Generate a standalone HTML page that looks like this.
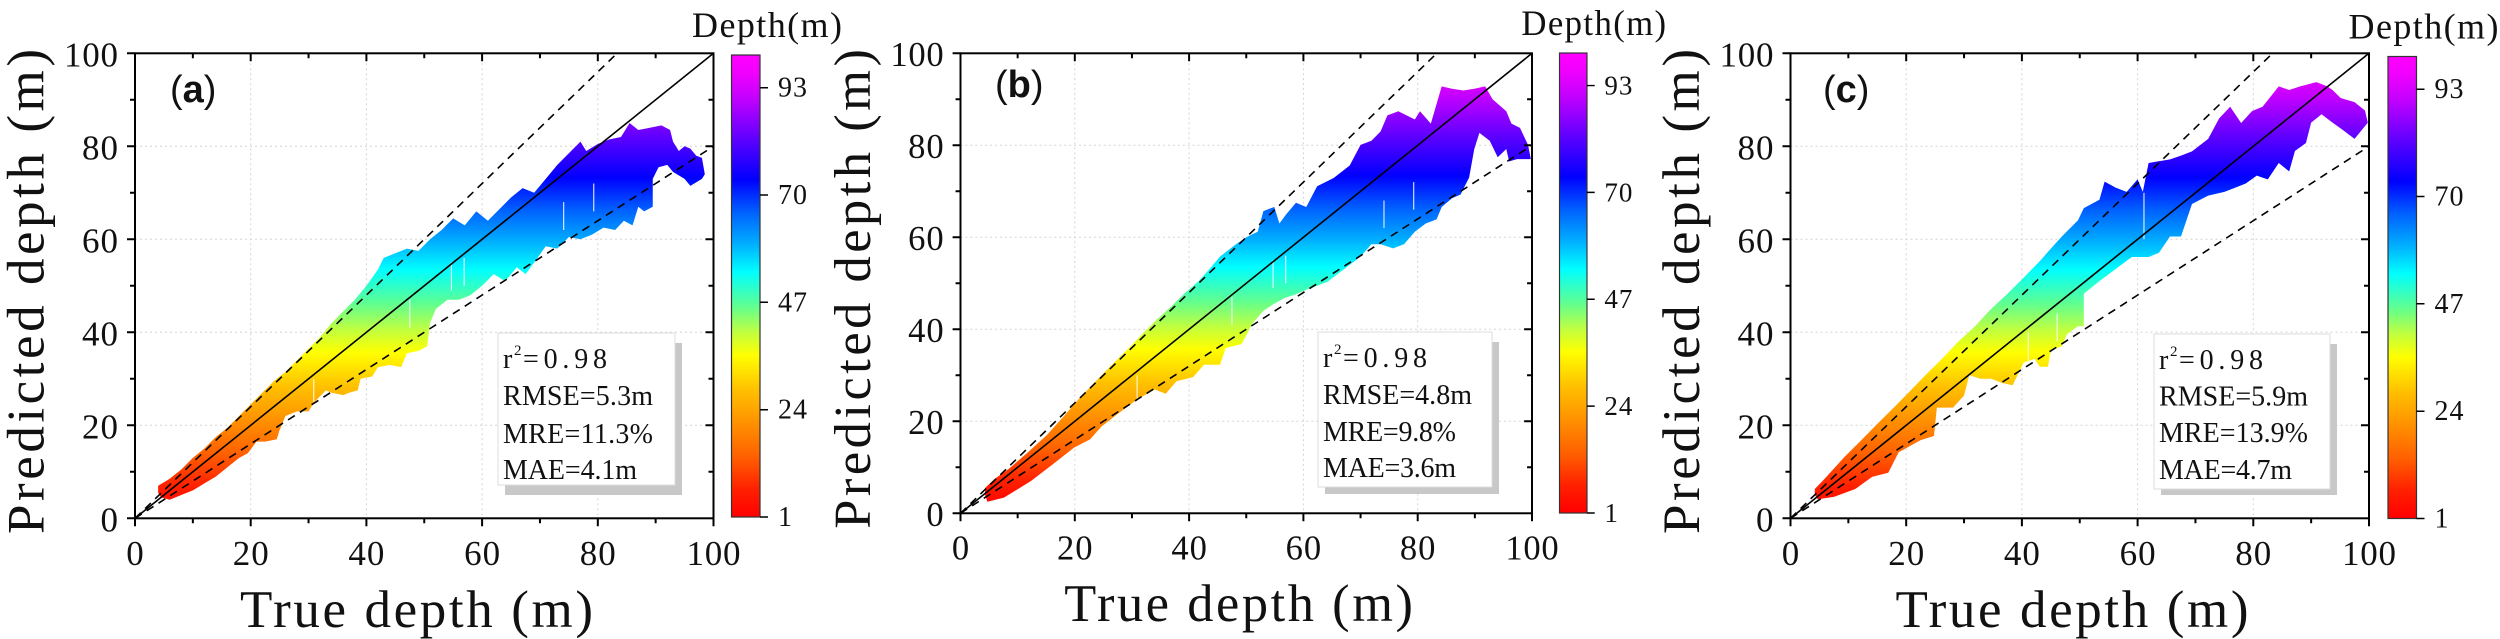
<!DOCTYPE html>
<html><head><meta charset="utf-8"><style>html,body{margin:0;padding:0;background:#fff}svg{display:block}</style></head>
<body>
<svg xmlns="http://www.w3.org/2000/svg" width="2500" height="639" viewBox="0 0 2500 639" font-family="'Liberation Serif', serif">
<defs>
<linearGradient id="sg" gradientUnits="userSpaceOnUse" x1="0" y1="1" x2="0" y2="100">
<stop offset="0" stop-color="#ff0000"/><stop offset=".06" stop-color="#ff2000"/><stop offset=".13" stop-color="#ff6000"/><stop offset=".225" stop-color="#ffa000"/><stop offset=".275" stop-color="#ffc000"/><stop offset=".35" stop-color="#ffff00"/><stop offset=".40" stop-color="#c0ff40"/><stop offset=".456" stop-color="#60ff90"/><stop offset=".53" stop-color="#00ffff"/><stop offset=".59" stop-color="#00b0ff"/><stop offset=".66" stop-color="#0060ff"/><stop offset=".73" stop-color="#0000ff"/><stop offset=".82" stop-color="#6000ff"/><stop offset=".903" stop-color="#c000ff"/><stop offset=".96" stop-color="#f000ff"/><stop offset="1" stop-color="#ff00ff"/>
</linearGradient>
<linearGradient id="cg" x1="0" y1="1" x2="0" y2="0">
<stop offset="0" stop-color="#ff0000"/><stop offset=".06" stop-color="#ff2000"/><stop offset=".13" stop-color="#ff6000"/><stop offset=".225" stop-color="#ffa000"/><stop offset=".275" stop-color="#ffc000"/><stop offset=".35" stop-color="#ffff00"/><stop offset=".40" stop-color="#c0ff40"/><stop offset=".456" stop-color="#60ff90"/><stop offset=".53" stop-color="#00ffff"/><stop offset=".59" stop-color="#00b0ff"/><stop offset=".66" stop-color="#0060ff"/><stop offset=".73" stop-color="#0000ff"/><stop offset=".82" stop-color="#6000ff"/><stop offset=".903" stop-color="#c000ff"/><stop offset=".96" stop-color="#f000ff"/><stop offset="1" stop-color="#ff00ff"/>
</linearGradient>

<g id="grid">
<path d="M115.7 0V465M231.4 0V465M347.1 0V465M462.8 0V465M0 93H578.5M0 186H578.5M0 279H578.5M0 372H578.5" stroke="#d4d4d4" stroke-width="1" stroke-dasharray="2 3" fill="none"/>
</g>

<g id="streaks" fill="#fff" fill-opacity="0.85">
<rect x="30.8" y="25" width="0.2" height="5"/>
<rect x="47.4" y="41" width="0.2" height="6"/>
<rect x="54.6" y="49" width="0.2" height="6"/>
<rect x="56.8" y="50" width="0.2" height="6"/>
<rect x="74" y="62" width="0.2" height="6"/>
<rect x="79.2" y="66" width="0.2" height="6"/>
</g>

<g id="front">
<path d="M0 465L578.5 0" stroke="#000" stroke-width="1.6" fill="none"/>
<path d="M0 465L482.1 0M0 465L578.5 93" stroke="#000" stroke-width="1.6" stroke-dasharray="8 6" fill="none"/>
<rect x="0" y="0" width="578.5" height="465" fill="none" stroke="#000" stroke-width="2"/>
<path d="M-8 465H0M-5 418.5H0M-8 372H0M-5 325.5H0M-8 279H0M-5 232.5H0M-8 186H0M-5 139.5H0M-8 93H0M-5 46.5H0M-8 0H0
M0 465V473M57.85 465V470M115.7 465V473M173.55 465V470M231.4 465V473M289.25 465V470M347.1 465V473M404.95 465V470M462.8 465V473M520.65 465V470M578.5 465V473
M57.85 0V5M115.7 0V8M173.55 0V5M231.4 0V8M289.25 0V5M347.1 0V8M404.95 0V5M462.8 0V8M520.65 0V5
M573.5 418.5H578.5M570.5 372H578.5M573.5 325.5H578.5M570.5 279H578.5M573.5 232.5H578.5M570.5 186H578.5M573.5 139.5H578.5M570.5 93H578.5M573.5 46.5H578.5" stroke="#000" stroke-width="2" fill="none"/>
<g font-size="35" fill="#111" text-anchor="end">
<text x="-17" y="13" textLength="54" lengthAdjust="spacing">100</text>
<text x="-17" y="106" textLength="36" lengthAdjust="spacing">80</text>
<text x="-17" y="199" textLength="36" lengthAdjust="spacing">60</text>
<text x="-17" y="292" textLength="36" lengthAdjust="spacing">40</text>
<text x="-17" y="385" textLength="36" lengthAdjust="spacing">20</text>
<text x="-17" y="478">0</text>
</g>
<g font-size="35" fill="#111" text-anchor="middle">
<text x="0" y="511.7">0</text>
<text x="115.7" y="511.7" textLength="36" lengthAdjust="spacing">20</text>
<text x="231.4" y="511.7" textLength="36" lengthAdjust="spacing">40</text>
<text x="347.1" y="511.7" textLength="36" lengthAdjust="spacing">60</text>
<text x="462.8" y="511.7" textLength="36" lengthAdjust="spacing">80</text>
<text x="578.5" y="511.7" textLength="54" lengthAdjust="spacing">100</text>
</g>
<text x="281.5" y="573.7" font-size="53" fill="#111" text-anchor="middle" textLength="353" lengthAdjust="spacing">True depth (m)</text>
<text transform="translate(-91.5,238.2) rotate(-90)" x="0" y="0" font-size="53" fill="#111" text-anchor="middle" textLength="485" lengthAdjust="spacing">Predicted depth (m)</text>
</g>

<g id="cbar">
<rect x="0" y="0" width="28.5" height="462" fill="url(#cg)" stroke="#333" stroke-width="1.2"/>
<path d="M28.5 462H36.5M28.5 354.7H36.5M28.5 247.3H36.5M28.5 140H36.5M28.5 32.7H36.5" stroke="#000" stroke-width="1.5"/>
<g font-size="28" fill="#111">
<text x="46.5" y="471">1</text>
<text x="46.5" y="363.7" textLength="29" lengthAdjust="spacing">24</text>
<text x="46.5" y="256.3" textLength="29" lengthAdjust="spacing">47</text>
<text x="46.5" y="149" textLength="29" lengthAdjust="spacing">70</text>
<text x="46.5" y="41.7" textLength="29" lengthAdjust="spacing">93</text>
</g>
<text x="-39.5" y="-18" font-size="36" fill="#111" textLength="150" lengthAdjust="spacing">Depth(m)</text>
</g>
</defs>

<rect x="0" y="0" width="2500" height="639" fill="#fff"/>

<!-- Panel A -->
<use href="#grid" transform="translate(135,53.3)"/>
<g transform="translate(135,518.3) scale(5.785,-4.65)">
<polygon fill="url(#sg)" points="4,5.5 4,7 6,8.5 8,10.5 10,13 12,15 14,17.5 16,19.5 18,22 20,24.5 22,27 24,29.5 26,31.5 28,34 30,36.5 32,39 34,42 36,44.5 38,47 40,50 42,53.5 43,56 45,57 47,58 49,57.5 51,60 53,62 55,64.5 57,63 59,66 61,64 63,66.5 65,69 67,71 69,70 71,73 73,76 75,78.5 77,81 78,79 80,80.5 82,81.5 84,82 85.5,85 87,83.5 89,84 91,84.5 92.5,83.5 93,81 94,79 95,80 96,79.5 97,78 98,77.5 98.5,74 98,73 96,71.5 95,73 93,74.5 92,76 90.5,75.5 89.5,73 89.5,67 88,66 87,67 86,63 84.5,64 83,62 81,62.5 79,61 77,60 75,60.5 73,58 71,58.5 69,55 67.5,52.5 66,54 64,51 62,52.5 60,50 58,48 56,47 54,47 52,45 51,42 50.5,37 49,36 47,35.5 46,32.5 44,33 42,32.5 41,30.5 39,30 38.5,27.5 37,27 36,26.5 34,27 33,27.5 31,25 30,23 28,23 26,22 25,19 24.5,17 22.5,16.5 21,16.5 19.5,14 18,13 16,11 14,9 12,7.5 10,6 8,5 6,4 4.5,4.5"/>
<use href="#streaks"/>
</g>
<use href="#front" transform="translate(135,53.3)"/>
<use href="#cbar" transform="translate(731.5,55)"/>
<text x="170" y="102" font-family="'Liberation Sans', sans-serif" font-size="38" fill="#111">(<tspan font-weight="bold">a</tspan>)</text>
<rect x="505" y="343" width="177" height="152" fill="#c8c8c8"/>
<rect x="498" y="333" width="177" height="152" fill="#fff" stroke="#dcdcdc" stroke-width="1"/>
<g font-size="28" fill="#111">
<text x="503" y="368">r</text><text x="514" y="355" font-size="15">2</text><text x="523" y="368" textLength="84" lengthAdjust="spacing">=0.98</text>
<text x="503" y="405" textLength="150" lengthAdjust="spacing">RMSE=5.3m</text>
<text x="503" y="443" textLength="150" lengthAdjust="spacing">MRE=11.3%</text>
<text x="503" y="479" textLength="134" lengthAdjust="spacing">MAE=4.1m</text>
</g>

<!-- Panel B -->
<use href="#grid" transform="translate(960.5,53.3) scale(0.9879,0.9892)"/>
<g transform="translate(960.5,513.3) scale(5.715,-4.6)">
<polygon fill="url(#sg)" points="4.3,4 4.3,5.5 6,7.5 8.5,9.7 12,13.5 15.1,17 18,21 20.8,25 23.5,28.5 26.5,32.3 29.5,36 32.2,39.5 34.5,42.3 36.9,45 39.2,47.8 41.6,50.4 43.5,53 45.4,55.8 48.2,58.5 50,60 52,61.2 53,65.7 54.9,66.6 55.8,63 57,65 58.7,67.5 60.5,66.6 62.4,71.1 65.3,72.9 68.1,75.6 70,80.1 71.9,81 73.5,83 74.7,86.5 76.6,87.4 79.5,85.6 80.4,87.4 82.3,84.7 84.2,92.8 86,92.3 88,91.9 89.9,92.3 91.8,92.8 93.1,90 95.5,87.4 96.4,84.7 97.9,83.8 99.3,80.1 99.8,77 97.4,77 96,76.5 95.5,79.2 94,77.4 92.6,81 90.8,82.7 89.9,79.2 89,73 87.5,69.3 86,68.5 84.2,66.6 83.3,63.9 81.4,63 79.5,61.2 77.6,58.5 75.7,57.6 73.5,58.5 71.9,58.5 70,55.8 68.1,54 66.2,52.2 64.3,50.4 62.5,49.5 60.5,48.6 58.5,47.5 56.7,46.8 54.8,45.5 53,44 51.1,41.3 49.2,36.8 46.4,35.9 45.4,32.3 42.6,32.3 40.7,29.6 37.8,28.7 35.9,26 34,26.9 32,25.5 30.3,24.2 27.4,21.5 24.6,18.8 22.7,16.1 19.9,14.3 16.1,10.6 12.3,7 7.6,3.4 4.7,2.5"/>
<use href="#streaks"/>
</g>
<use href="#front" transform="translate(960.5,53.3) scale(0.9879,0.9892)"/>
<use href="#cbar" transform="translate(1559.5,53) scale(0.965,0.9957)"/>
<text x="995" y="97" font-family="'Liberation Sans', sans-serif" font-size="38" fill="#111">(<tspan font-weight="bold">b</tspan>)</text>
<rect x="1325" y="342" width="174" height="152" fill="#c8c8c8"/>
<rect x="1318" y="332" width="174" height="155" fill="#fff" stroke="#dcdcdc" stroke-width="1"/>
<g font-size="28" fill="#111">
<text x="1323" y="367">r</text><text x="1334" y="354" font-size="15">2</text><text x="1343" y="367" textLength="84" lengthAdjust="spacing">=0.98</text>
<text x="1323" y="404" textLength="149" lengthAdjust="spacing">RMSE=4.8m</text>
<text x="1323" y="441" textLength="133" lengthAdjust="spacing">MRE=9.8%</text>
<text x="1323" y="477" textLength="133" lengthAdjust="spacing">MAE=3.6m</text>
</g>

<!-- Panel C -->
<use href="#grid" transform="translate(1790.5,53.3)"/>
<g transform="translate(1790.5,518.3) scale(5.785,-4.65)">
<polygon fill="url(#sg)" points="4.2,5 4.2,6.3 5.6,8.1 9.4,13.3 12,16.5 15,20.3 18,24 20.6,27.3 23.5,31 26.2,34.3 29,38 31.9,41.3 34.5,44.8 37.5,48.3 40.5,52 43.1,55.3 45,58 46.9,60.6 49.7,64.1 50.7,66.7 53.4,68.5 54.3,72.4 56.2,71.1 58.1,70.2 60,72.9 60.9,70.2 61.9,76.4 65.6,77.2 67.5,78 69.4,78.9 72.2,81.6 74.1,86 76,88.5 77.9,85 79.8,87.6 81.6,88.5 84.4,92.9 86.2,92.1 88.1,92.9 90.9,93.8 92.8,92.9 93.7,92.1 95.1,90.4 97.5,89.5 99.3,87.7 99.8,85.1 97.5,81.6 95.6,83.4 93.7,85.1 91.8,86.9 90,85.1 89.1,80.7 87.2,79 86.2,74.6 84.4,76.4 82.5,72.9 80.6,73.7 78.7,72 76.9,71.1 75,70.2 72.2,69.4 69.4,67.6 67.5,60.6 65.6,60.6 63.7,57.1 61.9,56.2 59,56.2 56.2,53.6 53.4,51 50.7,48.3 50.7,41.3 49.7,41.3 47.8,39.6 46.9,37 45,36.1 44.5,32.6 43.1,32.6 42.2,34.3 40.3,33.5 38.4,28.6 36.6,29.1 34.7,30 32.8,30 30.9,30.8 30,26.4 28.1,23.8 25.3,23.8 24.8,17.7 22.5,16.8 18.7,14.2 16.9,9.8 14.1,8.9 11.2,6.3 7.5,4.6 4.7,4.1"/>
<g fill="#fff" fill-opacity="0.85">
<rect x="61" y="60" width="0.2" height="10"/>
<rect x="41" y="34" width="0.2" height="6"/>
<rect x="46" y="38" width="0.2" height="6"/>
</g>
</g>
<use href="#front" transform="translate(1790.5,53.3)"/>
<use href="#cbar" transform="translate(2388,56.5)"/>
<text x="1823" y="102" font-family="'Liberation Sans', sans-serif" font-size="38" fill="#111">(<tspan font-weight="bold">c</tspan>)</text>
<rect x="2161" y="344" width="176" height="151" fill="#c8c8c8"/>
<rect x="2154" y="334" width="176" height="155" fill="#fff" stroke="#dcdcdc" stroke-width="1"/>
<g font-size="28" fill="#111">
<text x="2159" y="369">r</text><text x="2170" y="356" font-size="15">2</text><text x="2179" y="369" textLength="84" lengthAdjust="spacing">=0.98</text>
<text x="2159" y="405.5" textLength="149" lengthAdjust="spacing">RMSE=5.9m</text>
<text x="2159" y="442" textLength="149" lengthAdjust="spacing">MRE=13.9%</text>
<text x="2159" y="479" textLength="133" lengthAdjust="spacing">MAE=4.7m</text>
</g>
</svg>
</body></html>
